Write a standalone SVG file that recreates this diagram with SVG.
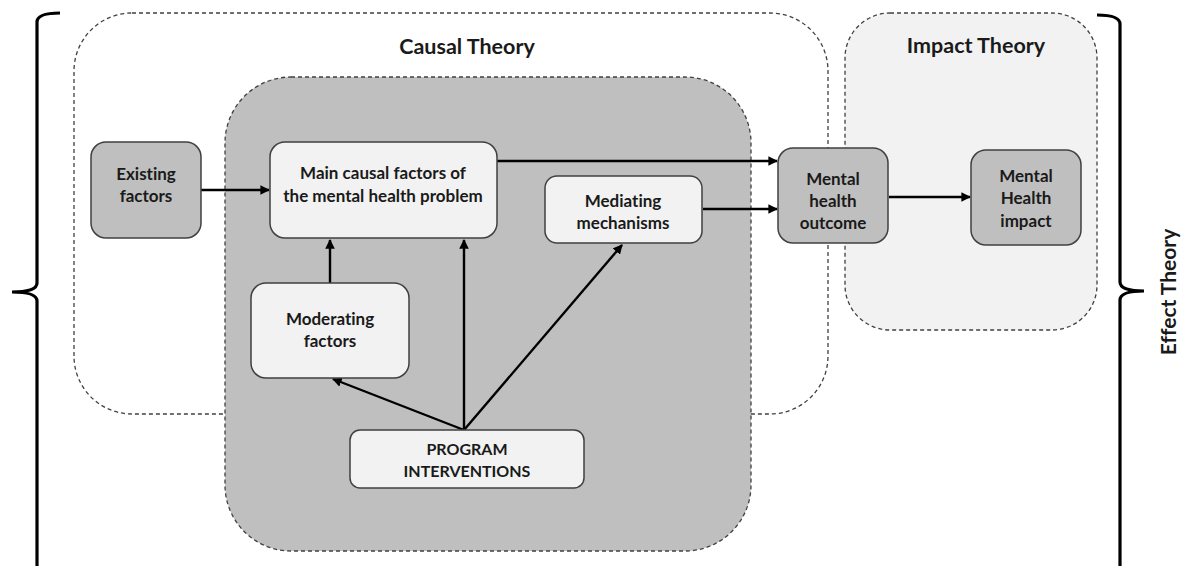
<svg xmlns="http://www.w3.org/2000/svg" width="1184" height="566" viewBox="0 0 1184 566">
<style>
.bg{fill:#ffffff}
.region{stroke:#404040;stroke-width:1.3;stroke-dasharray:4 3}
.node{stroke:#404040;stroke-width:1.5}
.dark{fill:#bfbfbf}
.light{fill:#f2f2f2}
text{font-family:Lato,"Open Sans","Liberation Sans",sans-serif;font-weight:bold;fill:#1a1a1a;text-anchor:middle;dominant-baseline:central;font-variant-ligatures:none;font-feature-settings:"liga" 0,"clig" 0}
.lbl{font-size:17px}
.caps{font-size:16px}
.title{font-size:21.5px}
.conn{stroke:#000;stroke-width:2.4;fill:none;marker-end:url(#ah)}
.brace{stroke:#000;stroke-width:3.2;fill:none}
</style>
<defs>
<marker id="ah" viewBox="0 0 10 10" refX="9" refY="5" markerWidth="4" markerHeight="4" orient="auto" markerUnits="strokeWidth">
<path d="M0,0 L10,5 L0,10 z" fill="#000"/>
</marker>
</defs>
<rect class="bg" x="0" y="0" width="1184" height="566"/>

<g id="causal-theory">
<rect class="region" x="74" y="13" width="754" height="401" rx="58" ry="58" fill="#ffffff"/>
<text class="title" x="467" y="46">Causal Theory</text>
</g>
<g id="impact-theory">
<rect class="region" x="845" y="13" width="252" height="317" rx="45" ry="45" fill="#f2f2f2"/>
<text class="title" x="976" y="45">Impact Theory</text>
</g>
<g id="program-area">
<rect class="region" x="225" y="77" width="526" height="474" rx="66" ry="66" fill="#bfbfbf"/>
</g>

<g id="braces">
<path class="brace" d="M60,13 Q37,13 37,22 L37,283 Q37,292 12,292 Q37,292 37,301 L37,570"/>
<path class="brace" d="M1097,15 Q1120,15 1120,24 L1120,282 Q1120,291 1144,291 Q1120,291 1120,300 L1120,570"/>
<text class="title" transform="translate(1167,292) rotate(-90)" x="0" y="0" style="font-size:21px">Effect Theory</text>
</g>

<g id="connectors">
<line class="conn" x1="201" y1="190" x2="269" y2="190"/>
<line class="conn" x1="497" y1="161" x2="777" y2="161"/>
<line class="conn" x1="703" y1="209" x2="777" y2="209"/>
<line class="conn" x1="889" y1="197" x2="970" y2="197"/>
<line class="conn" x1="330" y1="283" x2="330" y2="240"/>
<line class="conn" x1="464" y1="430" x2="464" y2="240"/>
<line class="conn" x1="464" y1="430" x2="333" y2="379"/>
<line class="conn" x1="464" y1="430" x2="622" y2="245"/>
</g>

<g id="existing-factors">
<rect class="node dark" x="91" y="142" width="110" height="96" rx="15"/>
<text class="lbl" x="146" y="173">Existing</text>
<text class="lbl" x="146" y="195">factors</text>
</g>
<g id="main-causal">
<rect class="node light" x="270" y="142" width="227" height="96" rx="15"/>
<text class="lbl" x="383" y="172">Main causal factors of</text>
<text class="lbl" x="383" y="195">the mental health problem</text>
</g>
<g id="mediating">
<rect class="node light" x="545" y="176" width="157" height="67" rx="12"/>
<text class="lbl" x="623" y="200">Mediating</text>
<text class="lbl" x="623" y="222">mechanisms</text>
</g>
<g id="outcome">
<rect class="node dark" x="778" y="148" width="110" height="95" rx="15"/>
<text class="lbl" x="833" y="178">Mental</text>
<text class="lbl" x="833" y="200">health</text>
<text class="lbl" x="833" y="222">outcome</text>
</g>
<g id="impact">
<rect class="node dark" x="971" y="150" width="110" height="95" rx="15"/>
<text class="lbl" x="1026" y="175">Mental</text>
<text class="lbl" x="1026" y="197">Health</text>
<text class="lbl" x="1026" y="220">impact</text>
</g>
<g id="moderating">
<rect class="node light" x="251" y="283" width="158" height="95" rx="15"/>
<text class="lbl" x="330" y="318">Moderating</text>
<text class="lbl" x="330" y="340">factors</text>
</g>
<g id="program">
<rect class="node light" x="350" y="430" width="234" height="58" rx="10"/>
<text class="caps" x="467" y="448">PROGRAM</text>
<text class="caps" x="467" y="470">INTERVENTIONS</text>
</g>
</svg>
